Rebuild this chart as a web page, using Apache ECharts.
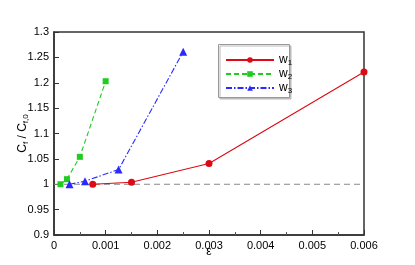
<!DOCTYPE html>
<html><head><meta charset="utf-8">
<script src="https://cdn.jsdelivr.net/npm/echarts@6/dist/echarts.min.js"></script>
<style>html,body{margin:0;padding:0;background:#fff}#c{width:415px;height:265px}</style>
</head><body><div id="c"></div>
<script>
const w1 = [[0.00075, 1.0], [0.0015, 1.004], [0.003, 1.041], [0.006, 1.221]];
const w2 = [[0.000125, 1.0], [0.00025, 1.01], [0.0005, 1.054], [0.001, 1.203]];
const w3 = [[0.0003, 1.0], [0.0006, 1.006], [0.00125, 1.029], [0.0025, 1.261]];
const refLine = [[0, 1], [0.006, 1]];
const xTicks = {min: 0, max: 0.006, interval: 0.001};
const yTicks = {min: 0.9, max: 1.3, interval: 0.05};
const FONT = 'Liberation Sans';
const chart = echarts.init(document.getElementById('c'));
chart.setOption({
  animation: false,
  grid: {left: 54, right: 51, top: 32, bottom: 30, show: true, borderColor: '#333', borderWidth: 1.5,
         outerBoundsMode: 'none', containLabel: false},
  graphic: [{
    type: 'rect', left: 218, top: 44, z: 0, silent: true,
    shape: {width: 71, height: 53},
    style: {fill: '#fff', stroke: '#999', lineWidth: 1,
            shadowColor: '#bbb', shadowBlur: 0, shadowOffsetX: 1.5, shadowOffsetY: 1.5}
  }],
  xAxis: {
    type: 'value', min: xTicks.min, max: xTicks.max, interval: xTicks.interval,
    name: 'ε', nameLocation: 'middle', nameGap: 11, nameMoveOverlap: false,
    nameTextStyle: {fontFamily: FONT, fontSize: 12, color: '#000'},
    axisLine: {lineStyle: {color: '#333', width: 1.5}},
    axisTick: {inside: true, length: 5, lineStyle: {color: '#333'}},
    minorTick: {show: true, splitNumber: 2, length: 3, lineStyle: {color: '#555'}},
    splitLine: {show: false},
    axisLabel: {fontFamily: FONT, fontSize: 11, color: '#000', margin: 5}
  },
  yAxis: {
    type: 'value', min: yTicks.min, max: yTicks.max, interval: yTicks.interval,
    name: '{m|C}{s|f}{m| / C}{s|f,0}', nameLocation: 'middle', nameGap: 24, nameRotate: 90,
    nameMoveOverlap: false,
    nameTextStyle: {fontFamily: FONT, color: '#000',
      rich: {m: {fontFamily: FONT, fontSize: 12, color: '#000'},
             s: {fontFamily: FONT, fontSize: 8, color: '#000', padding: [7, 0, 0, 0]}}},
    axisLine: {lineStyle: {color: '#333', width: 1.5}},
    axisTick: {inside: true, length: 5, lineStyle: {color: '#333'}},
    splitLine: {show: false},
    axisLabel: {fontFamily: FONT, fontSize: 11, color: '#000', margin: 5}
  },
  legend: {
    data: ['w1', 'w2', 'w3'], orient: 'vertical', left: 218, top: 44, z: 5,
    itemWidth: 48, itemHeight: 7, itemGap: 0, padding: [9, 0, 4, 7],
    backgroundColor: 'transparent', borderWidth: 0,
    formatter: n => '{m|w}{s|' + n.slice(1) + '}',
    textStyle: {fontFamily: FONT, color: '#000',
      rich: {m: {fontFamily: FONT, fontSize: 12, lineHeight: 11, color: '#000'},
             s: {fontFamily: FONT, fontSize: 8, lineHeight: 8, color: '#000', padding: [6, 0, 0, 0]}}}
  },
  series: [
    {type: 'line', name: 'ref', data: refLine, symbol: 'none', silent: true,
     lineStyle: {color: '#888', width: 1, type: [6, 4]}, z: 1},
    {type: 'line', name: 'w1', data: w1, symbol: 'circle', symbolSize: 7,
     itemStyle: {color: '#dd0a14'}, lineStyle: {color: '#dd0a14', width: 1.1}},
    {type: 'line', name: 'w2', data: w2, symbol: 'rect', symbolSize: 6,
     itemStyle: {color: '#20cc20'}, lineStyle: {color: '#20cc20', width: 1.1, type: [5, 3]}},
    {type: 'line', name: 'w3', data: w3, symbol: 'triangle', symbolSize: 8,
     itemStyle: {color: '#2a2aff'}, lineStyle: {color: '#2a2aff', width: 1.1, type: [6, 2, 1.5, 2]}}
  ]
});
</script></body></html>
